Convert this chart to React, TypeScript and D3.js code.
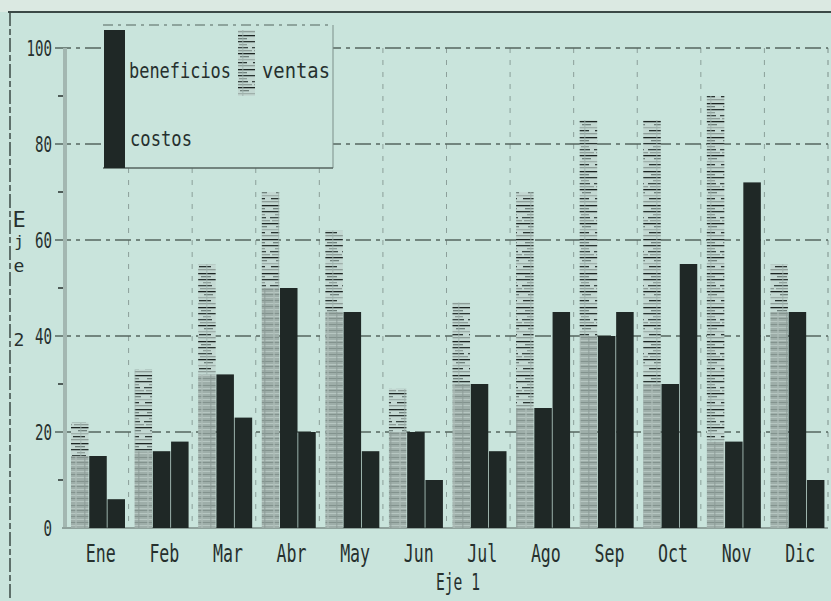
import React from "react";
import * as d3 from "d3";

const months = ["Ene", "Feb", "Mar", "Abr", "May", "Jun", "Jul", "Ago", "Sep", "Oct", "Nov", "Dic"];
const ventas = [22, 33, 55, 70, 62, 29, 47, 70, 85, 85, 90, 55];
const beneficios = [15, 16, 32, 50, 45, 20, 30, 25, 40, 30, 18, 45];
const costos = [6, 18, 23, 20, 16, 10, 16, 45, 45, 55, 72, 10];
const yTicks = [0, 20, 40, 60, 80, 100];
const yMinor = [10, 30, 50, 70, 90];
const seriesKeys = ["ventas", "beneficios", "costos"];

const W = 831;
const H = 601;
const BG = "#c9e4dc";
const DARK = "#1f2826";
const INK = "#26302e";
const FONT = "'DejaVu Sans Mono', 'Liberation Mono', monospace";

export default function App() {
  const x = d3.scaleBand<string>().domain(months).range([65, 828]).paddingInner(0).paddingOuter(0);
  const xs = d3.scaleBand<string>().domain(seriesKeys).range([6, 60]).paddingInner(0.04);
  const y = d3.scaleLinear().domain([0, 100]).range([528, 48]);
  const bw = xs.bandwidth();

  const hatchLines = [
    { y: 1, x: 0, w: 18, c: "#1c2523" },
    { y: 4, x: 3, w: 10, c: "#6f807b" },
    { y: 7, x: 0, w: 18, c: "#2a3532" },
    { y: 10, x: 5, w: 8, c: "#8d9d98" },
    { y: 13, x: 0, w: 14, c: "#3c4946" },
    { y: 16, x: 2, w: 16, c: "#8d9d98" },
    { y: 19, x: 0, w: 18, c: "#1c2523" },
    { y: 22, x: 6, w: 9, c: "#6f807b" },
    { y: 25, x: 0, w: 18, c: "#9fb0ab" },
    { y: 28, x: 1, w: 12, c: "#2a3532" },
    { y: 31, x: 0, w: 18, c: "#8d9d98" },
  ];
  const grayLines = [1, 4, 6, 9, 12, 15, 18, 21];

  return (
    <svg width={W} height={H} style={{ display: "block", position: "absolute", left: 0, top: 0 }}>
      <defs>
        <pattern id="hatch" patternUnits="userSpaceOnUse" width={18} height={34}>
          <rect width={18} height={34} fill="#c3d8d2" />
          {hatchLines.map((l, i) => (
            <rect key={i} x={l.x} y={l.y} width={l.w} height={1.3} fill={l.c} />
          ))}
          <rect x={8} y={0} width={1.5} height={34} fill="#9fb3ad" opacity={0.6} />
        </pattern>
        <pattern id="grayfill" patternUnits="userSpaceOnUse" width={18} height={24}>
          <rect width={18} height={24} fill="#9eaea9" />
          {grayLines.map((l, i) => (
            <rect key={i} x={0} y={l} width={18} height={1}
              fill={i % 2 === 0 ? "#83938e" : "#b6c6c1"} />
          ))}
          <rect x={3} y={0} width={2} height={24} fill="#adbcb7" opacity={0.6} />
          <rect x={12} y={0} width={1.5} height={24} fill="#8a9a95" opacity={0.6} />
        </pattern>
      </defs>

      <rect x={0} y={0} width={W} height={H} fill={BG} />
      <rect x={0} y={0} width={W} height={12} fill="#dbe9e2" />

      {/* outer frame */}
      <line x1={8} x2={W} y1={12} y2={12} stroke="#3b4946" strokeWidth={2} />
      <line x1={10} x2={10} y1={12} y2={H} stroke="#3b4946" strokeWidth={1.5} strokeDasharray="14,3,6,3" />

      {/* vertical gridlines */}
      {months.map((m, i) => (
        <line key={m} x1={(x(m) as number) + x.bandwidth()} x2={(x(m) as number) + x.bandwidth()}
          y1={48} y2={528} stroke="#7d8f8a" strokeWidth={1} strokeDasharray="5,7" opacity={i === months.length - 1 ? 1 : 0.8} />
      ))}

      {/* horizontal gridlines */}
      {yTicks.filter((t) => t > 0).map((t) => (
        <line key={t} x1={55} x2={828} y1={y(t)} y2={y(t)} stroke="#55655f" strokeWidth={1.5}
          strokeDasharray="16,5,4,5" />
      ))}

      {/* left axis */}
      <line x1={65} x2={65} y1={48} y2={528} stroke="#a3b7b1" strokeWidth={4} />
      <line x1={62} x2={828} y1={528} y2={528} stroke="#8fa29c" strokeWidth={2} />
      {yMinor.map((t) => (
        <line key={t} x1={58} x2={63} y1={y(t)} y2={y(t)} stroke={INK} strokeWidth={1.5} />
      ))}

      {/* bars */}
      {months.map((m, i) => {
        const x0 = x(m) as number;
        const xv = x0 + (xs("ventas") as number);
        const xb = x0 + (xs("beneficios") as number);
        const xc = x0 + (xs("costos") as number);
        const gTop = Math.min(beneficios[i], ventas[i]);
        return (
          <g key={m}>
            <rect x={xv} y={y(ventas[i])} width={bw} height={y(gTop) - y(ventas[i])} fill="url(#hatch)" />
            <rect x={xv} y={y(gTop)} width={bw} height={y(0) - y(gTop)} fill="url(#grayfill)" />
            <rect x={xb} y={y(beneficios[i])} width={bw} height={y(0) - y(beneficios[i])} fill={DARK} />
            <rect x={xc} y={y(costos[i])} width={bw} height={y(0) - y(costos[i])} fill={DARK} />
          </g>
        );
      })}

      {/* y tick labels */}
      {yTicks.map((t) => {
        const s = String(t);
        return (
          <text key={t} x={52} y={y(t) + 8} textAnchor="end" fontFamily={FONT} fontSize={21}
            fill={INK} textLength={s.length * 8.5} lengthAdjust="spacingAndGlyphs">{s}</text>
        );
      })}

      {/* x tick labels */}
      {months.map((m) => (
        <text key={m} x={(x(m) as number) + x.bandwidth() / 2 + 4} y={562} textAnchor="middle"
          fontFamily={FONT} fontSize={24} fill={INK} textLength={m.length * 10}
          lengthAdjust="spacingAndGlyphs">{m}</text>
      ))}

      {/* axis titles */}
      <text x={458} y={590} textAnchor="middle" fontFamily={FONT} fontSize={23} fill={INK}
        textLength={44} lengthAdjust="spacingAndGlyphs">Eje 1</text>
      <text x={19} y={227} textAnchor="middle" fontFamily={FONT} fontSize={22} fill={INK}>E</text>
      <text x={19} y={247} textAnchor="middle" fontFamily={FONT} fontSize={16} fill={INK}>j</text>
      <text x={19} y={272} textAnchor="middle" fontFamily={FONT} fontSize={18} fill={INK}>e</text>
      <text x={19} y={346} textAnchor="middle" fontFamily={FONT} fontSize={18} fill={INK}>2</text>

      {/* legend */}
      <rect x={103} y={25} width={230} height={143} fill={BG} />
      <line x1={103} x2={333} y1={25} y2={25} stroke="#55655f" strokeWidth={1.2} strokeDasharray="10,5,3,5" />
      <line x1={333} x2={333} y1={25} y2={168} stroke="#7d8f8a" strokeWidth={1} />
      <line x1={103} x2={333} y1={168} y2={168} stroke="#55655f" strokeWidth={1.5} />
      <rect x={104} y={30} width={21} height={138} fill={DARK} />
      <rect x={238} y={30} width={17} height={66} fill="url(#hatch)" />
      <text x={129} y={78} fontFamily={FONT} fontSize={21} fill={INK} textLength={102}
        lengthAdjust="spacingAndGlyphs">beneficios</text>
      <text x={262} y={78} fontFamily={FONT} fontSize={21} fill={INK} textLength={68}
        lengthAdjust="spacingAndGlyphs">ventas</text>
      <text x={130} y={146} fontFamily={FONT} fontSize={21} fill={INK} textLength={62}
        lengthAdjust="spacingAndGlyphs">costos</text>
    </svg>
  );
}
